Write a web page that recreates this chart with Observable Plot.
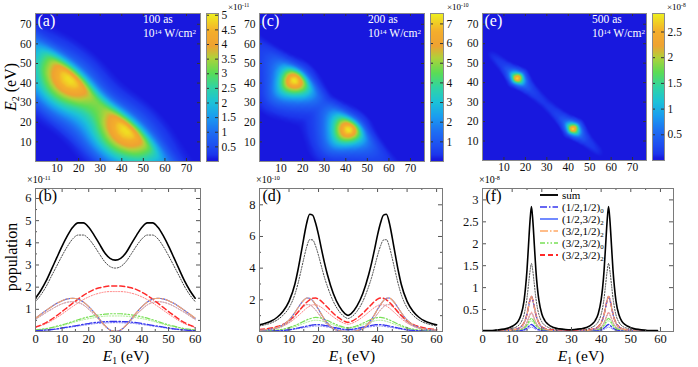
<!DOCTYPE html>
<html><head><meta charset="utf-8">
<script src="https://cdn.jsdelivr.net/npm/d3@7"></script>
<script src="https://cdn.jsdelivr.net/npm/@observablehq/plot@0.6"></script>
<style>
body{margin:0;background:#fff;}
#root{position:relative;width:698px;height:367px;overflow:hidden;font-family:"Liberation Serif","Times New Roman",serif;color:#000;}
#root svg{overflow:visible;}
#root svg text{font-family:"Liberation Serif","Times New Roman",serif !important;}
.t{position:absolute;white-space:nowrap;line-height:1;}
.t sup{font-size:0.62em;vertical-align:0.45em;line-height:0;}
.t sub{font-size:0.62em;vertical-align:-0.3em;line-height:0;}
</style></head><body><div id="root"></div>
<script>
// ---------------- data: bottom panel (b), 100 as, x10^-11 ----------------
const xB = [0,2,4,6,8,10,12,14,16,18,20,22,24,26,28,30,32,34,36,38,40,42,44,46,48,50,52,54,56,58,60];
const sumB = [1.5,1.85,2.28,2.8,3.33,3.85,4.32,4.7,4.9,4.9,4.7,4.35,3.95,3.55,3.3,3.22,3.3,3.55,3.95,4.35,4.7,4.9,4.9,4.7,4.32,3.85,3.33,2.8,2.28,1.85,1.5];
const sumDotB = [1.35,1.65,2.03,2.5,2.96,3.42,3.84,4.18,4.35,4.35,4.18,3.87,3.5,3.15,2.93,2.86,2.93,3.15,3.5,3.87,4.18,4.35,4.35,4.18,3.84,3.42,2.96,2.5,2.03,1.65,1.35];
const b12B = [0.04,0.05,0.07,0.09,0.12,0.16,0.2,0.24,0.28,0.32,0.36,0.4,0.42,0.44,0.45,0.45,0.45,0.44,0.42,0.4,0.36,0.32,0.28,0.24,0.2,0.16,0.12,0.09,0.07,0.05,0.04];
const b12DotB = [0.035,0.045,0.06,0.08,0.105,0.14,0.175,0.21,0.245,0.28,0.315,0.35,0.37,0.385,0.395,0.4,0.395,0.385,0.37,0.35,0.315,0.28,0.245,0.21,0.175,0.14,0.105,0.08,0.06,0.045,0.035];
const b13B = [0.6,0.78,0.95,1.12,1.27,1.39,1.47,1.5,1.46,1.33,1.12,0.86,0.57,0.28,0.07,0.0,0.07,0.28,0.57,0.86,1.12,1.33,1.46,1.5,1.47,1.39,1.27,1.12,0.95,0.78,0.6];
const b13DotB = [0.54,0.7,0.86,1.0,1.14,1.25,1.32,1.35,1.31,1.2,1.0,0.77,0.51,0.25,0.06,0.0,0.06,0.25,0.51,0.77,1.0,1.2,1.31,1.35,1.32,1.25,1.14,1.0,0.86,0.7,0.54];
const o31B = [0.6,0.78,0.95,1.12,1.27,1.39,1.47,1.5,1.46,1.33,1.12,0.86,0.57,0.28,0.07,0.0,0.07,0.28,0.57,0.86,1.12,1.33,1.46,1.5,1.47,1.39,1.27,1.12,0.95,0.78,0.6];
const o31DotB = [0.54,0.7,0.86,1.0,1.14,1.25,1.32,1.35,1.31,1.2,1.0,0.77,0.51,0.25,0.06,0.0,0.06,0.25,0.51,0.77,1.0,1.2,1.31,1.35,1.32,1.25,1.14,1.0,0.86,0.7,0.54];
const g30B = [0.07,0.1,0.13,0.18,0.24,0.3,0.37,0.45,0.53,0.6,0.66,0.71,0.75,0.78,0.8,0.8,0.8,0.78,0.75,0.71,0.66,0.6,0.53,0.45,0.37,0.3,0.24,0.18,0.13,0.1,0.07];
const g30DotB = [0.06,0.09,0.11,0.16,0.21,0.26,0.33,0.4,0.47,0.53,0.58,0.62,0.66,0.69,0.7,0.7,0.7,0.69,0.66,0.62,0.58,0.53,0.47,0.4,0.33,0.26,0.21,0.16,0.11,0.09,0.06];
const r32B = [0.2,0.29,0.4,0.55,0.72,0.9,1.09,1.28,1.46,1.63,1.77,1.89,1.97,2.02,2.05,2.05,2.05,2.02,1.97,1.89,1.77,1.63,1.46,1.28,1.09,0.9,0.72,0.55,0.4,0.29,0.2];
const r32DotB = [0.18,0.26,0.35,0.48,0.63,0.79,0.96,1.13,1.29,1.44,1.56,1.66,1.73,1.78,1.8,1.8,1.8,1.78,1.73,1.66,1.56,1.44,1.29,1.13,0.96,0.79,0.63,0.48,0.35,0.26,0.18];

// ---------------- data: bottom panel (d), 200 as, x10^-10 ----------------
const xD = [0,2,4,6,8,10,12,13,14,15,16,17,18,19,20,21,22,23,25,27,29,30,31,33,35,37,38,39,40,41,42,43,44,45,46,47,48,50,52,54,56,58,60];
const sumD = [0.42,0.52,0.66,0.9,1.28,1.9,3.0,3.85,4.85,5.9,6.85,7.4,7.35,6.85,6.1,5.2,4.35,3.6,2.4,1.6,1.12,1.02,1.12,1.6,2.4,3.6,4.35,5.2,6.1,6.85,7.35,7.4,6.85,5.9,4.85,3.85,3.0,1.9,1.28,0.9,0.66,0.52,0.42];
const sumDotD = [0.35,0.43,0.54,0.73,1.03,1.5,2.35,3.0,3.78,4.6,5.35,5.8,5.78,5.4,4.8,4.1,3.42,2.85,1.9,1.27,0.9,0.82,0.9,1.27,1.9,2.85,3.42,4.1,4.8,5.4,5.78,5.8,5.35,4.6,3.78,3.0,2.35,1.5,1.03,0.73,0.54,0.43,0.35];
const b13D = [0.08,0.11,0.16,0.25,0.42,0.72,1.2,1.48,1.76,1.98,2.12,2.1,1.95,1.7,1.4,1.08,0.78,0.53,0.2,0.05,0.005,0.0,0.005,0.05,0.2,0.53,0.78,1.08,1.4,1.7,1.95,2.1,2.12,1.98,1.76,1.48,1.2,0.72,0.42,0.25,0.16,0.11,0.08];
const b13DotD = [0.06,0.09,0.13,0.2,0.34,0.58,0.96,1.18,1.41,1.58,1.7,1.68,1.56,1.36,1.12,0.86,0.62,0.42,0.16,0.04,0.004,0.0,0.004,0.04,0.16,0.42,0.62,0.86,1.12,1.36,1.56,1.68,1.7,1.58,1.41,1.18,0.96,0.58,0.34,0.2,0.13,0.09,0.06];
const o31D = [0.08,0.11,0.16,0.25,0.42,0.72,1.2,1.48,1.76,1.98,2.12,2.1,1.95,1.7,1.4,1.08,0.78,0.53,0.2,0.05,0.005,0.0,0.005,0.05,0.2,0.53,0.78,1.08,1.4,1.7,1.95,2.1,2.12,1.98,1.76,1.48,1.2,0.72,0.42,0.25,0.16,0.11,0.08];
const o31DotD = [0.06,0.09,0.13,0.2,0.34,0.58,0.96,1.18,1.41,1.58,1.7,1.68,1.56,1.36,1.12,0.86,0.62,0.42,0.16,0.04,0.004,0.0,0.004,0.04,0.16,0.42,0.62,0.86,1.12,1.36,1.56,1.68,1.7,1.58,1.41,1.18,0.96,0.58,0.34,0.2,0.13,0.09,0.06];
const r32D = [0.12,0.16,0.22,0.31,0.45,0.68,1.02,1.22,1.44,1.65,1.85,2.0,2.1,2.11,2.04,1.9,1.72,1.53,1.15,0.84,0.63,0.58,0.63,0.84,1.15,1.53,1.72,1.9,2.04,2.11,2.1,2.0,1.85,1.65,1.44,1.22,1.02,0.68,0.45,0.31,0.22,0.16,0.12];
const r32DotD = [0.1,0.13,0.18,0.25,0.36,0.54,0.82,0.98,1.15,1.32,1.48,1.6,1.68,1.69,1.63,1.52,1.38,1.22,0.92,0.67,0.5,0.46,0.5,0.67,0.92,1.22,1.38,1.52,1.63,1.69,1.68,1.6,1.48,1.32,1.15,0.98,0.82,0.54,0.36,0.25,0.18,0.13,0.1];
const g30D = [0.03,0.04,0.06,0.09,0.15,0.24,0.38,0.46,0.55,0.64,0.73,0.8,0.86,0.89,0.88,0.84,0.77,0.69,0.52,0.36,0.26,0.24,0.26,0.36,0.52,0.69,0.77,0.84,0.88,0.89,0.86,0.8,0.73,0.64,0.55,0.46,0.38,0.24,0.15,0.09,0.06,0.04,0.03];
const g30DotD = [0.02,0.03,0.05,0.07,0.12,0.19,0.3,0.37,0.44,0.51,0.58,0.64,0.69,0.71,0.7,0.67,0.62,0.55,0.42,0.29,0.21,0.19,0.21,0.29,0.42,0.55,0.62,0.67,0.7,0.71,0.69,0.64,0.58,0.51,0.44,0.37,0.3,0.19,0.12,0.07,0.05,0.03,0.02];
const b12D = [0.02,0.02,0.03,0.05,0.07,0.11,0.18,0.22,0.26,0.3,0.34,0.38,0.41,0.44,0.44,0.42,0.39,0.35,0.27,0.19,0.13,0.12,0.13,0.19,0.27,0.35,0.39,0.42,0.44,0.44,0.41,0.38,0.34,0.3,0.26,0.22,0.18,0.11,0.07,0.05,0.03,0.02,0.02];
const b12DotD = [0.015,0.015,0.025,0.04,0.055,0.09,0.145,0.175,0.21,0.24,0.27,0.3,0.33,0.35,0.35,0.335,0.31,0.28,0.215,0.15,0.105,0.095,0.105,0.15,0.215,0.28,0.31,0.335,0.35,0.35,0.33,0.3,0.27,0.24,0.21,0.175,0.145,0.09,0.055,0.04,0.025,0.015,0.015];

// ---------------- data: bottom panel (f), 500 as, x10^-8 ----------------
const xF = [0,4,8,10,11,12,13,14,14.5,15,15.5,16,16.5,17,17.5,18,18.5,19,20,21,22,24,26,28,29.5,31,33,35,37,38,39,40,40.5,41,41.5,42,42.5,43,43.5,44,44.5,45,46,47,48,49,51,55,59];
const sumF = [0.02,0.03,0.065,0.12,0.16,0.23,0.38,0.7,1.0,1.4,1.95,2.5,2.85,2.5,1.95,1.4,1.0,0.72,0.4,0.25,0.17,0.09,0.06,0.045,0.04,0.045,0.06,0.09,0.17,0.25,0.4,0.72,1.0,1.4,1.95,2.5,2.85,2.5,1.95,1.4,1.0,0.7,0.38,0.23,0.16,0.12,0.065,0.03,0.02];
const sumDotF = [0.015,0.02,0.04,0.07,0.09,0.13,0.21,0.38,0.54,0.76,1.06,1.36,1.55,1.36,1.06,0.76,0.54,0.39,0.22,0.14,0.1,0.05,0.035,0.03,0.025,0.03,0.035,0.05,0.1,0.14,0.22,0.39,0.54,0.76,1.06,1.36,1.55,1.36,1.06,0.76,0.54,0.38,0.21,0.13,0.09,0.07,0.04,0.02,0.015];
const b13F = [0.005,0.008,0.018,0.032,0.045,0.065,0.105,0.19,0.27,0.39,0.55,0.71,0.8,0.7,0.54,0.38,0.27,0.19,0.1,0.06,0.04,0.02,0.01,0.005,0.0,0.005,0.01,0.02,0.04,0.06,0.1,0.19,0.27,0.38,0.54,0.7,0.8,0.71,0.55,0.39,0.27,0.19,0.105,0.065,0.045,0.032,0.018,0.008,0.005];
const o31F = [0.005,0.008,0.018,0.032,0.045,0.065,0.105,0.19,0.27,0.39,0.55,0.71,0.8,0.7,0.54,0.38,0.27,0.19,0.1,0.06,0.04,0.02,0.01,0.005,0.0,0.005,0.01,0.02,0.04,0.06,0.1,0.19,0.27,0.38,0.54,0.7,0.8,0.71,0.55,0.39,0.27,0.19,0.105,0.065,0.045,0.032,0.018,0.008,0.005];
const r32F = [0.006,0.009,0.02,0.035,0.047,0.068,0.11,0.2,0.28,0.4,0.56,0.72,0.8,0.71,0.55,0.39,0.28,0.2,0.11,0.07,0.05,0.03,0.02,0.015,0.013,0.015,0.02,0.03,0.05,0.07,0.11,0.2,0.28,0.39,0.55,0.71,0.8,0.72,0.56,0.4,0.28,0.2,0.11,0.068,0.047,0.035,0.02,0.009,0.006];
const b13DotF = [0.003,0.004,0.009,0.017,0.023,0.034,0.055,0.1,0.14,0.2,0.29,0.37,0.42,0.36,0.28,0.2,0.14,0.1,0.05,0.03,0.02,0.01,0.005,0.003,0.0,0.003,0.005,0.01,0.02,0.03,0.05,0.1,0.14,0.2,0.28,0.36,0.42,0.37,0.29,0.2,0.14,0.1,0.055,0.034,0.023,0.017,0.009,0.004,0.003];
const o31DotF = [0.003,0.004,0.009,0.017,0.023,0.034,0.055,0.1,0.14,0.2,0.29,0.37,0.42,0.36,0.28,0.2,0.14,0.1,0.05,0.03,0.02,0.01,0.005,0.003,0.0,0.003,0.005,0.01,0.02,0.03,0.05,0.1,0.14,0.2,0.28,0.36,0.42,0.37,0.29,0.2,0.14,0.1,0.055,0.034,0.023,0.017,0.009,0.004,0.003];
const r32DotF = [0.003,0.005,0.011,0.019,0.026,0.037,0.06,0.11,0.15,0.22,0.31,0.4,0.44,0.39,0.3,0.21,0.15,0.11,0.06,0.04,0.03,0.017,0.011,0.008,0.007,0.008,0.011,0.017,0.03,0.04,0.06,0.11,0.15,0.21,0.3,0.39,0.44,0.4,0.31,0.22,0.15,0.11,0.06,0.037,0.026,0.019,0.011,0.005,0.003];
const g30F = [0.003,0.004,0.008,0.013,0.018,0.026,0.042,0.075,0.105,0.15,0.21,0.27,0.3,0.27,0.21,0.15,0.105,0.075,0.042,0.026,0.018,0.01,0.006,0.004,0.004,0.004,0.006,0.01,0.018,0.026,0.042,0.075,0.105,0.15,0.21,0.27,0.3,0.27,0.21,0.15,0.105,0.075,0.042,0.026,0.018,0.013,0.008,0.004,0.003];
const g30DotF = [0.002,0.003,0.006,0.01,0.014,0.021,0.034,0.06,0.084,0.12,0.17,0.22,0.24,0.22,0.17,0.12,0.084,0.06,0.034,0.021,0.014,0.008,0.005,0.003,0.003,0.003,0.005,0.008,0.014,0.021,0.034,0.06,0.084,0.12,0.17,0.22,0.24,0.22,0.17,0.12,0.084,0.06,0.034,0.021,0.014,0.01,0.006,0.003,0.002];
const b12F = [0.002,0.002,0.004,0.007,0.01,0.014,0.022,0.04,0.056,0.08,0.11,0.14,0.16,0.14,0.11,0.08,0.056,0.04,0.022,0.014,0.01,0.005,0.003,0.002,0.002,0.002,0.003,0.005,0.01,0.014,0.022,0.04,0.056,0.08,0.11,0.14,0.16,0.14,0.11,0.08,0.056,0.04,0.022,0.014,0.01,0.007,0.004,0.002,0.002];
const b12DotF = [0.001,0.001,0.003,0.004,0.006,0.009,0.014,0.025,0.035,0.05,0.068,0.087,0.1,0.087,0.068,0.05,0.035,0.025,0.014,0.009,0.006,0.003,0.002,0.001,0.001,0.001,0.002,0.003,0.006,0.009,0.014,0.025,0.035,0.05,0.068,0.087,0.1,0.087,0.068,0.05,0.035,0.025,0.014,0.009,0.006,0.004,0.003,0.001,0.001];

// ---------------- data: heat maps ----------------
// along-cut extensions beyond the cut ends (read from the maps)
const cutLo = [-12,-8,-4], cutHi = [64,68,72];
const alongLoA = [0.45,0.7,1.05], alongHiA = [1.05,0.7,0.45];
const alongLoC = [0.12,0.19,0.3], alongHiC = [0.3,0.19,0.12];
// (e) map: along-diagonal profile
const cutE = [-12,-6,0,3,5,8,10,12,13,14,15,15.5,16,16.5,17,17.5,18,19,20,21,23,26,29.5,33,36,38,39,40,41,41.5,42,42.5,43,43.5,44,45,46,47,49,51,54,56,59,65,71];
const alongE = [0,0,0.01,0.05,0.1,0.15,0.2,0.38,0.6,1.05,1.7,2.15,2.6,2.85,2.6,2.15,1.7,1.05,0.6,0.4,0.24,0.16,0.13,0.16,0.24,0.4,0.6,1.05,1.7,2.15,2.6,2.85,2.6,2.15,1.7,1.05,0.6,0.38,0.2,0.15,0.1,0.05,0.01,0,0];
// across-cut profiles vs E1+E2
const sumEnergyA = [0,15,20,23,26,29,32,35,38,41,44,47,50,53,56,58,60,62,64,66,68,70,72,75,78,81,85,90,100,152];
const acrossA = [0,0.003,0.015,0.028,0.05,0.12,0.2,0.3,0.41,0.53,0.64,0.75,0.86,0.94,0.99,1.0,0.95,0.8,0.62,0.42,0.28,0.18,0.13,0.08,0.045,0.025,0.005,0,0,0];
const sumEnergyC = [0,20,25,28,31,34,37,40,43,46,49,52,54,56,57,58,59,60,61,62,63,64,65,66,68,70,73,76,85,152];
const acrossC = [0,0.003,0.012,0.03,0.05,0.09,0.15,0.22,0.32,0.44,0.6,0.78,0.9,0.97,1.0,0.99,0.96,0.92,0.84,0.72,0.6,0.48,0.36,0.25,0.12,0.06,0.02,0.005,0,0];
const sumEnergyE = [0,44,48,50,52,53,54,55,56,57,58,59,60,61,62,63,64,66,68,72,152];
const acrossE = [0,0,0.005,0.015,0.05,0.12,0.25,0.42,0.62,0.85,1.0,0.97,0.86,0.7,0.5,0.32,0.18,0.05,0.01,0,0];

// ---------------- tick labels ----------------
const heatTicks = [10,20,30,40,50,60,70];
const cbTicksA = [0.5,1,1.5,2,2.5,3,3.5,4,4.5,5];
const cbTicksC = [1,2,3,4,5,6,7];
const cbTicksE = [0.5,1,1.5,2,2.5];
const xTicks = [0,10,20,30,40,50,60];
const xMinor = [5,15,25,35,45,55];
const yTicksB = [1,2,3,4,5,6], yMinorB = [0.5,1.5,2.5,3.5,4.5,5.5];
const yTicksD = [2,4,6,8], yMinorD = [1,3,5,7];
const yTicksF = [0.5,1,1.5,2,2.5,3];
const legendNames = ["sum","(1/2,1/2)","(1/2,3/2)","(3/2,1/2)","(3/2,3/2)","(3/2,3/2)"];
const legendSubs = ["","0","2","2","0","2"];

// ---------------- styles ----------------
const FONT = '"Liberation Serif","Times New Roman",serif';
const cmapStops = [[0,"#1818de"],[0.015,"#1818de"],[0.045,"#1c36ec"],[0.1,"#1e4cf0"],[0.2,"#1e6ef2"],[0.3,"#1a9cf0"],[0.4,"#1cc2d8"],[0.5,"#30d4a4"],[0.6,"#5cdc54"],[0.7,"#b0d23a"],[0.78,"#efa232"],[0.88,"#f4ae2c"],[1,"#eef01e"]];
const ST = {
  sum:{stroke:"#000",w:1.6,dash:null}, sumDot:{stroke:"#444",w:1,dash:"1.2,1.6"},
  b12:{stroke:"#3636ee",w:1.3,dash:"7,2,1.5,2"}, b12Dot:{stroke:"#7a7af4",w:1,dash:"1.2,1.6"},
  b13:{stroke:"#3458ff",w:1.1,dash:null}, b13Dot:{stroke:"#9a86dc",w:1,dash:"1.2,1.6"},
  o31:{stroke:"#ffa864",w:1.1,dash:"8,2,1.5,2"}, o31Dot:{stroke:"#f0b090",w:1,dash:"1.2,1.6"},
  g30:{stroke:"#78e055",w:1.2,dash:"5,2,1.5,2,1.5,2"}, g30Dot:{stroke:"#a6ec8a",w:1,dash:"1.2,1.6"},
  r32:{stroke:"#ff2a2a",w:1.5,dash:"5,3"}, r32Dot:{stroke:"#ff8080",w:1,dash:"1.2,1.6"}
};
const root = document.getElementById("root");
function put(el, left, top){ el.style.position="absolute"; el.style.left=left+"px"; el.style.top=top+"px"; root.appendChild(el); }
function txt(html, x, y, {size=12, color="#000", anchor="left", rotate=0}={}){
  const d=document.createElement("div"); d.className="t"; d.innerHTML=html;
  d.style.fontSize=size+"px"; d.style.color=color; d.style.left=x+"px"; d.style.top=y+"px";
  const tx = anchor==="middle"?"-50%":anchor==="right"?"-100%":"0";
  d.style.transform=`translate(${tx},-50%)`+(rotate?` rotate(${rotate}deg)`:"");
  root.appendChild(d);
}
function colorScale(cmax){ return {type:"linear", domain:cmapStops.map(d=>d[0]*cmax), range:cmapStops.map(d=>d[1]), clamp:true}; }
const HX = 76.5, HY = 75.5;
const plotStyle = {background:"transparent", overflow:"visible", fontFamily:FONT, color:"#111"};

function heatPanel(o){
  const pts=[];
  o.cut.forEach((c,i)=>o.sE.forEach((s,j)=>pts.push({x:(s+2*c-o.S0)/2, y:(s-2*c+o.S0)/2, v:o.along[i]*o.across[j]})));
  const ml=32, mr=2, mt=2, mb=20;
  const svg=Plot.plot({
    width:o.fw+ml+mr, height:o.fh+mt+mb, marginLeft:ml, marginRight:mr, marginTop:mt, marginBottom:mb,
    style:{...plotStyle, fontSize:"11px"},
    x:{domain:[0,HX], axis:null}, y:{domain:[0,HY], axis:null}, color:colorScale(o.cmax),
    marks:[
      Plot.raster(pts,{x:"x", y:"y", fill:"v", interpolate:"barycentric", x1:0, x2:HX, y1:0, y2:HY}),
      Plot.tickX(heatTicks,{x:d=>d, insetTop:o.fh-3, stroke:"#333"}),
      Plot.tickX(heatTicks,{x:d=>d, insetBottom:o.fh-3, stroke:"#333"}),
      Plot.tickY(heatTicks,{y:d=>d, insetRight:o.fw-3, stroke:"#333"}),
      Plot.tickY(heatTicks,{y:d=>d, insetLeft:o.fw-3, stroke:"#333"}),
      Plot.frame({stroke:"#8a8a8a"}),
      Plot.axisX(heatTicks,{tickSize:0, tickPadding:2, tickFormat:d=>String(d), fontSize:11.5, fontFamily:FONT, label:null}),
      Plot.axisY(heatTicks,{tickSize:0, tickPadding:4, tickFormat:d=>String(d), fontSize:11.5, fontFamily:FONT, label:null}),
      Plot.text([o.tag],{frameAnchor:"top-left", text:d=>d, dx:2, dy:1, fill:"#fff", fontSize:16, fontFamily:FONT, textAnchor:"start", lineAnchor:"top"})
    ]
  });
  put(svg, o.fx-ml, o.fy-mt);
}
function colorbar(o){
  const ml=0, mr=26, mt=2, mb=2;
  const svg=Plot.plot({
    width:o.fw+ml+mr, height:o.fh+mt+mb, marginLeft:ml, marginRight:mr, marginTop:mt, marginBottom:mb,
    style:{...plotStyle, fontSize:"11px"},
    x:{domain:[0,1], axis:null}, y:{domain:[0,o.cmax], axis:null}, color:colorScale(o.cmax),
    marks:[
      Plot.raster({fill:(x,y)=>y, x1:0, x2:1, y1:0, y2:o.cmax}),
      Plot.tickY(o.ticks,{y:d=>d, insetLeft:o.fw-3, stroke:"#333"}),
      Plot.tickY(o.ticks,{y:d=>d, insetRight:o.fw-3, stroke:"#333"}),
      Plot.frame({stroke:"#8a8a8a"}),
      Plot.axisY(o.ticks,{anchor:"right", tickSize:0, tickPadding:3, tickFormat:d=>String(d), fontSize:11.5, fontFamily:FONT, label:null})
    ]
  });
  put(svg, o.fx-ml, o.fy-mt);
}
function linePanel(o){
  const ml=30, mr=2, mt=2, mb=22;
  const marks=[];
  for(const s of o.series){
    const rows=o.xs.map((x,i)=>({x, y:s.v[i]}));
    marks.push(Plot.line(rows,{x:"x", y:"y", stroke:s.st.stroke, strokeWidth:s.st.w, strokeDasharray:s.st.dash, curve:"monotone-x", clip:true}));
  }
  const tk="#555";
  marks.push(
    Plot.tickX(xTicks,{x:d=>d, insetTop:o.fh-4, stroke:tk}),
    Plot.tickX(xTicks,{x:d=>d, insetBottom:o.fh-4, stroke:tk}),
    Plot.tickX(xMinor,{x:d=>d, insetTop:o.fh-2, stroke:tk}),
    Plot.tickX(xMinor,{x:d=>d, insetBottom:o.fh-2, stroke:tk}),
    Plot.tickY(o.yTicks,{y:d=>d, insetRight:o.fw-4, stroke:tk}),
    Plot.tickY(o.yTicks,{y:d=>d, insetLeft:o.fw-4, stroke:tk}),
    Plot.tickY(o.yMinor,{y:d=>d, insetRight:o.fw-2, stroke:tk}),
    Plot.tickY(o.yMinor,{y:d=>d, insetLeft:o.fw-2, stroke:tk}),
    Plot.frame({stroke:"#7a7a7a"}),
    Plot.axisX(xTicks,{tickSize:0, tickPadding:3, tickFormat:d=>String(d), fontSize:12.5, fontFamily:FONT, label:null}),
    Plot.axisY(o.yTicks,{tickSize:0, tickPadding:4, tickFormat:d=>String(d), fontSize:12.5, fontFamily:FONT, label:null}),
    Plot.text([o.tag],{frameAnchor:"top-left", text:d=>d, dx:3, dy:1, fill:"#000", fontSize:16, fontFamily:FONT, textAnchor:"start", lineAnchor:"top"})
  );
  const svg=Plot.plot({
    width:o.fw+ml+mr, height:o.fh+mt+mb, marginLeft:ml, marginRight:mr, marginTop:mt, marginBottom:mb,
    style:{...plotStyle, fontSize:"12px"},
    x:{domain:[0,o.xMax], axis:null}, y:{domain:[0,o.yMax], axis:null},
    marks
  });
  put(svg, o.fx-ml, o.fy-mt);
}
function seriesOf(v){ return [
  {v:v.sumDot, st:ST.sumDot},{v:v.r32Dot, st:ST.r32Dot},{v:v.b13Dot, st:ST.b13Dot},{v:v.o31Dot, st:ST.o31Dot},
  {v:v.g30Dot, st:ST.g30Dot},{v:v.b12Dot, st:ST.b12Dot},
  {v:v.g30, st:ST.g30},{v:v.b12, st:ST.b12},{v:v.r32, st:ST.r32},{v:v.b13, st:ST.b13},{v:v.o31, st:ST.o31},{v:v.sum, st:ST.sum}
];}

// ---------------- heat maps ----------------
heatPanel({fx:35, fy:13, fw:165, fh:148, cmax:5.06, S0:60, tag:"(a)",
  cut:[...cutLo, ...xB, ...cutHi], along:[...alongLoA, ...sumB, ...alongHiA], sE:sumEnergyA, across:acrossA});
heatPanel({fx:259, fy:13, fw:165, fh:148, cmax:7.53, S0:60, tag:"(c)",
  cut:[...cutLo, ...xD, ...cutHi], along:[...alongLoC, ...sumD, ...alongHiC], sE:sumEnergyC, across:acrossC});
heatPanel({fx:482, fy:13, fw:164, fh:147, cmax:2.86, S0:59, tag:"(e)",
  cut:cutE, along:alongE, sE:sumEnergyE, across:acrossE});
colorbar({fx:206, fy:13, fw:12, fh:148, cmax:5.06, ticks:cbTicksA});
colorbar({fx:430, fy:13, fw:13, fh:148, cmax:7.53, ticks:cbTicksC});
colorbar({fx:652, fy:13, fw:12, fh:147, cmax:2.86, ticks:cbTicksE});

// ---------------- line panels ----------------
linePanel({fx:35, fy:188, fw:165, fh:143, xMax:62, yMax:6.45, xs:xB, yTicks:yTicksB, yMinor:yMinorB, tag:"(b)",
  series:seriesOf({sum:sumB,sumDot:sumDotB,b12:b12B,b12Dot:b12DotB,b13:b13B,b13Dot:b13DotB,o31:o31B,o31Dot:o31DotB,g30:g30B,g30Dot:g30DotB,r32:r32B,r32Dot:r32DotB})});
linePanel({fx:259, fy:188, fw:183, fh:143, xMax:62, yMax:9.03, xs:xD, yTicks:yTicksD, yMinor:yMinorD, tag:"(d)",
  series:seriesOf({sum:sumD,sumDot:sumDotD,b12:b12D,b12Dot:b12DotD,b13:b13D,b13Dot:b13DotD,o31:o31D,o31Dot:o31DotD,g30:g30D,g30Dot:g30DotD,r32:r32D,r32Dot:r32DotD})});
linePanel({fx:482, fy:188, fw:191, fh:143, xMax:64.4, yMax:3.26, xs:xF, yTicks:yTicksF, yMinor:[], tag:"(f)",
  series:seriesOf({sum:sumF,sumDot:sumDotF,b12:b12F,b12Dot:b12DotF,b13:b13F,b13Dot:b13DotF,o31:o31F,o31Dot:o31DotF,g30:g30F,g30Dot:g30DotF,r32:r32F,r32Dot:r32DotF})});

// ---------------- texts ----------------
txt("100 as",143,20,{size:11.5,color:"#fff"}); txt("10<sup>14</sup> W/cm<sup>2</sup>",143,33.5,{size:11.5,color:"#fff"});
txt("200 as",368,20,{size:11.5,color:"#fff"}); txt("10<sup>14</sup> W/cm<sup>2</sup>",368,33.5,{size:11.5,color:"#fff"});
txt("500 as",592,20,{size:11.5,color:"#fff"}); txt("10<sup>14</sup> W/cm<sup>2</sup>",592,33.5,{size:11.5,color:"#fff"});
txt("×10<sup>-11</sup>",228,6.5,{size:9}); txt("×10<sup>-10</sup>",447,6.5,{size:9}); txt("×10<sup>-8</sup>",667,6.5,{size:9});
txt("×10<sup>-11</sup>",27,180,{size:10}); txt("×10<sup>-10</sup>",256,180,{size:10}); txt("×10<sup>-8</sup>",479,180,{size:10});
txt("<i>E</i><sub>2</sub> (eV)",11,87,{size:16,anchor:"middle",rotate:-90});
txt("population",12,257,{size:16,anchor:"middle",rotate:-90});
txt("<i>E</i><sub>1</sub> (eV)",126,356,{size:15.5,anchor:"middle"});
txt("<i>E</i><sub>1</sub> (eV)",352,356,{size:15.5,anchor:"middle"});
txt("<i>E</i><sub>1</sub> (eV)",581,356,{size:15.5,anchor:"middle"});

// legend in (f)
const legSt=[ST.sum,ST.b12,ST.b13,ST.o31,ST.g30,ST.r32];
legendNames.forEach((n,i)=>{
  const y=195+i*11.9;
  const s=document.createElementNS("http://www.w3.org/2000/svg","svg");
  s.setAttribute("width",18); s.setAttribute("height",6);
  const l=document.createElementNS("http://www.w3.org/2000/svg","line");
  l.setAttribute("x1",0); l.setAttribute("x2",18); l.setAttribute("y1",3); l.setAttribute("y2",3);
  l.setAttribute("stroke",legSt[i].stroke); l.setAttribute("stroke-width",Math.max(1.4,legSt[i].w+0.3));
  if(legSt[i].dash) l.setAttribute("stroke-dasharray",legSt[i].dash);
  s.appendChild(l); put(s,540,y-3);
  txt(n+(legendSubs[i]?`<sub>${legendSubs[i]}</sub>`:""),562,y,{size:11});
});
</script></body></html>
